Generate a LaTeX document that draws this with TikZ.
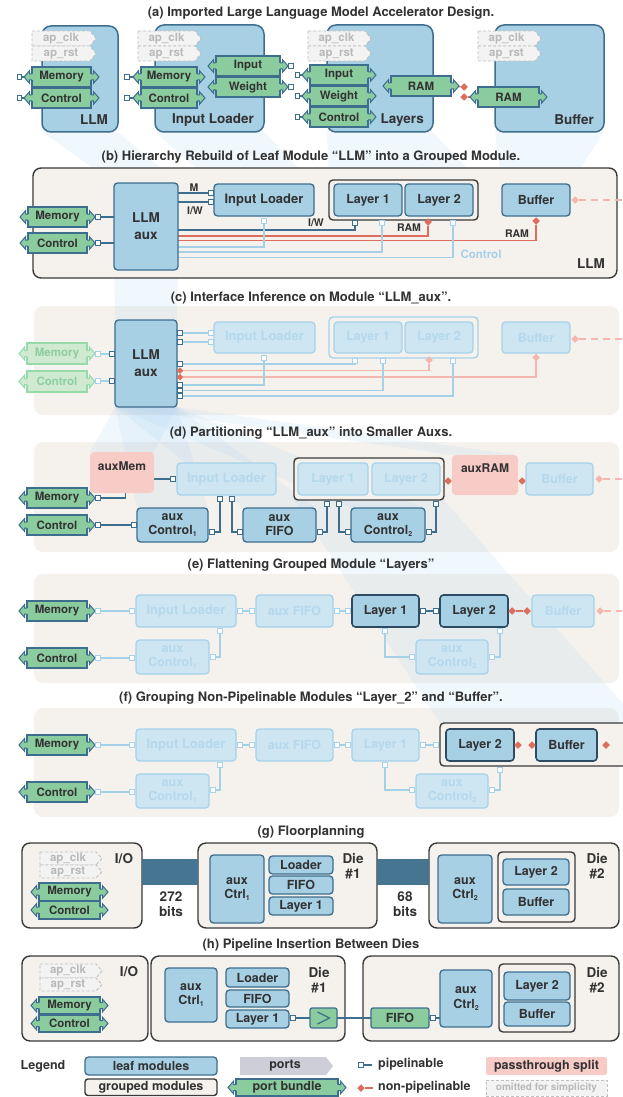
\documentclass[tikz,border=0pt]{standalone}
\usepackage{fontspec}
\setmainfont{TeX Gyre Heros}
\usetikzlibrary{calc,shapes.geometric}
\pgfdeclarelayer{bglay}
\pgfdeclarelayer{beamlay}
\pgfdeclarelayer{grplay}
\pgfdeclarelayer{wirelay}
\pgfsetlayers{bglay,beamlay,grplay,wirelay,main}
\definecolor{leafF}{RGB}{168,208,229}
\definecolor{leafD}{RGB}{62,110,142}
\definecolor{actD}{RGB}{45,76,98}
\definecolor{grpF}{RGB}{245,242,237}
\definecolor{grpD}{RGB}{58,58,58}
\definecolor{bunF}{RGB}{138,204,158}
\definecolor{txt}{RGB}{50,50,50}
\definecolor{fadF}{RGB}{206,230,241}
\definecolor{fadD}{RGB}{166,210,234}
\definecolor{fadT}{RGB}{180,216,236}
\definecolor{fgF}{RGB}{208,234,210}
\definecolor{fgD}{RGB}{150,218,170}
\definecolor{fgT}{RGB}{140,206,160}
\definecolor{redC}{RGB}{221,109,92}
\definecolor{pinkF}{RGB}{247,203,198}
\definecolor{pinkL}{RGB}{245,182,174}
\definecolor{lineL}{RGB}{164,208,232}
\definecolor{portG}{RGB}{206,206,216}
\definecolor{omF}{RGB}{243,243,243}
\definecolor{omD}{RGB}{192,192,192}
\definecolor{omT}{RGB}{185,185,185}
\definecolor{barC}{RGB}{70,117,146}
\definecolor{beamC}{RGB}{150,200,238}
\newcommand\bx[7][]{\node[#1,minimum width={(#5)-(#3)},minimum height={(#6)-(#4)}] (#2) at ({((#3)+(#5))/2},{((#4)+(#6))/2}) {#7};}
\newcommand\sub[1]{\raisebox{-0.25ex}{\fontsize{7}{7}\selectfont #1}}
\newcommand\barr[3]{%
\foreach \sg/\an in {1/east,-1/west}{%
\fill[#2] ($(#1.\an)+({-1*(\sg)},-3)$) -- ++({3.5*(\sg)},0) -- ++(0,-3.3) -- ++({5.5*(\sg)},6.3) -- ++({-5.5*(\sg)},6.3) -- ++(0,-3.3) -- ++({-3.5*(\sg)},0) -- cycle;
\draw[#3,line width=1pt,line join=miter] ($(#1.\an)+(0,-3)$) -- ++({2.5*(\sg)},0) -- ++(0,-3.3) -- ++({5.5*(\sg)},6.3) -- ++({-5.5*(\sg)},6.3) -- ++(0,-3.3) -- ++({-2.5*(\sg)},0);
}}
\newcommand\bund[6]{\bx[bund]{#1}{#2}{#3}{#4}{#5}{#6}\barr{#1}{bunF}{leafD}}
\newcommand\fbund[6]{\bx[fbund]{#1}{#2}{#3}{#4}{#5}{#6}\barr{#1}{fgF}{fgD}}
\newcommand\omtag[6]{%
\draw[omD,fill=omF,dash pattern=on 3pt off 2pt,line width=0.9pt] (#2,#3) -- ({#4-6},#3) -- (#4,{(#3+#5)/2}) -- ({#4-6},#5) -- (#2,#5) -- cycle;
\node[omtxt] (#1) at ({(#2+#4)/2-3},{(#3+#5)/2}) {#6};}
\newcommand\pp[4][prt]{\node[#1] (#2) at (#3,#4) {};}
\begin{document}
\begin{tikzpicture}[x=1pt,y=-1pt,
 every node/.style={text=txt},
 leaf/.style={draw=leafD, fill=leafF, line width=1.3pt, rounded corners=3.5pt, inner sep=0pt, outer sep=0pt, align=center, font=\bfseries\fontsize{12.5}{14.5}\selectfont, text=txt},
 leafbig/.style={leaf, rounded corners=9pt, line width=1.5pt},
 fleaf/.style={leaf, draw=fadD, fill=fadF, text=fadT},
 actleaf/.style={leaf, draw=actD, line width=1.6pt},
 grp/.style={draw=grpD, fill=grpF, line width=1.4pt, rounded corners=8pt, inner sep=0pt, outer sep=0pt, align=center},
 grpsm/.style={grp, rounded corners=4pt},
 fgrp/.style={grp, draw=fadD, rounded corners=4pt},
 bgbox/.style={fill=grpF, rounded corners=9pt, inner sep=0pt, outer sep=0pt},
 pinkbox/.style={fill=pinkF, rounded corners=4pt, inner sep=0pt, outer sep=0pt},
 bund/.style={draw=leafD, fill=bunF, line width=1.2pt, inner sep=0pt, outer sep=0pt, font=\bfseries\fontsize{11.5}{12}\selectfont, text=txt},
 fbund/.style={bund, draw=fgD, fill=fgF, text=fgT},
 bundsq/.style={bund, rounded corners=2pt, font=\bfseries\fontsize{12.5}{13}\selectfont},
 prt/.style={rectangle, draw=leafD, fill=white, line width=1pt, minimum size=4.8pt, inner sep=0pt, outer sep=0pt},
 fprt/.style={prt, draw=fadD},
 rdia/.style={diamond, fill=redC, minimum size=7.5pt, inner sep=0pt, outer sep=0pt},
 pdia/.style={rdia, fill=pinkL},
 wire/.style={draw=leafD, line width=1.3pt},
 fwire/.style={draw=lineL, line width=1.3pt},
 rwire/.style={draw=redC, line width=1.3pt},
 pwire/.style={draw=pinkL, line width=1.3pt},
 dsh/.style={dash pattern=on 7pt off 5pt},
 title/.style={font=\bfseries\fontsize{13}{14}\selectfont, inner sep=0pt},
 lbl/.style={font=\bfseries\fontsize{13.5}{15.5}\selectfont, inner sep=0pt, align=center},
 sl/.style={font=\bfseries\fontsize{10.5}{11}\selectfont, inner sep=0pt},
 sl2/.style={font=\bfseries\fontsize{12}{12}\selectfont, inner sep=0pt},
 legtxt/.style={font=\bfseries\fontsize{12.5}{13}\selectfont, inner sep=0pt},
 omtxt/.style={font=\bfseries\fontsize{11.5}{12}\selectfont, text=omT, inner sep=0pt},
 omitbox/.style={draw=omD, fill=omF, dash pattern=on 3pt off 2pt, line width=0.9pt, inner sep=0pt, outer sep=0pt, font=\bfseries\fontsize{10}{10}\selectfont, text=omT},
 beam/.style={fill=beamC, fill opacity=0.13}
]
\useasboundingbox (0,0) rectangle (622,1097);

% ================= (a)
\node[title] (tA) at (321,13) {(a) Imported Large Language Model Accelerator Design.};
\bx[leafbig]{llmA}{42}{26}{118}{132}{}
\node[lbl,anchor=east] (llmAl) at (108,120) {LLM};
\omtag{clkA1}{32}{31}{96}{46}{ap\_clk}
\omtag{rstA1}{32}{46}{96}{61}{ap\_rst}
\bund{memA1}{32}{67}{91}{87}{Memory}
\bund{ctlA1}{32}{88}{91}{108}{Control}
\pp{pmA1}{19.5}{77}\pp{pcA1}{19.5}{98}

\bx[leafbig]{ilA}{155}{25}{264}{132}{}
\node[lbl] (ilAl) at (213,120) {Input Loader};
\omtag{clkA2}{138}{31}{201}{46}{ap\_clk}
\omtag{rstA2}{138}{46}{201}{61}{ap\_rst}
\bund{memA2}{141}{67}{197}{87}{Memory}
\bund{ctlA2}{141}{88}{197}{108}{Control}
\pp{pmA2}{127}{77}\pp{pcA2}{127}{98}
\bund{inA2}{216}{56}{280}{76}{Input}
\bund{wtA2}{216}{77}{280}{97}{Weight}
\pp{piA2}{291}{66}\pp{pwA2}{291}{87}

\bx[leafbig]{lyA}{327}{25}{433}{132}{}
\node[lbl,anchor=east] (lyAl) at (424,120) {Layers};
\omtag{clkA3}{308}{31}{371}{46}{ap\_clk}
\omtag{rstA3}{308}{46}{371}{61}{ap\_rst}
\bund{inA3}{310}{65}{368}{85}{Input}
\bund{wtA3}{310}{86}{368}{106}{Weight}
\bund{ctA3}{310}{107}{368}{127}{Control}
\pp{piA3}{297.5}{75}\pp{pwA3}{297.5}{96}\pp{pcA3}{297.5}{117}
\bund{ramA3}{391}{76}{451}{96}{RAM}
\node[rdia] (dA1) at (464,87) {};
\node[rdia] (dA2) at (464,97) {};

\bx[leafbig]{bfA}{495}{25}{604}{132}{}
\node[lbl,anchor=east] (bfAl) at (594,120) {Buffer};
\omtag{clkA4}{478}{31}{541}{46}{ap\_clk}
\omtag{rstA4}{478}{46}{541}{61}{ap\_rst}
\bund{ramA4}{478}{87}{539}{107}{RAM}

\begin{pgfonlayer}{wirelay}
\draw[wire] (pmA1) -- (memA1.west); \draw[wire] (pcA1) -- (ctlA1.west);
\draw[wire] (pmA2) -- (memA2.west); \draw[wire] (pcA2) -- (ctlA2.west);
\draw[wire] (piA2) -- (inA2.east); \draw[wire] (pwA2) -- (wtA2.east);
\draw[wire] (piA3) -- (inA3.west); \draw[wire] (pwA3) -- (wtA3.west); \draw[wire] (pcA3) -- (ctA3.west);
\draw[rwire] (dA1) -- (ramA3.east); \draw[rwire] (dA2) -- (ramA4.west);
\end{pgfonlayer}

% ================= (b)
\node[title] (tB) at (311,157) {(b) Hierarchy Rebuild of Leaf Module “LLM” into a Grouped Module.};
\begin{pgfonlayer}{grplay}\bx[grp]{grpB}{33}{168}{617}{278}{}\end{pgfonlayer}
\node[lbl,anchor=east] (grpBl) at (605,264) {LLM};
\bund{memB}{28}{207}{87}{227}{Memory}
\bund{ctlB}{28}{233}{87}{253}{Control}
\pp{pmB}{98}{217}\pp{pcB}{98}{243}
\bx[leaf,font=\bfseries\fontsize{13.5}{17}\selectfont]{auxB}{114}{183}{178}{270}{LLM\\aux}
\bx[leaf,font=\bfseries\fontsize{13}{15}\selectfont]{ilB}{214}{184}{314}{216}{Input Loader}
\pp{pi1B}{211}{193}\pp{pi2B}{211}{202}
\pp[fprt]{picB}{264}{221}
\bx[grpsm]{lyB}{329}{180}{478}{220}{}
\bx[leaf]{l1B}{334}{184}{402}{216}{Layer 1}
\bx[leaf]{l2B}{405}{184}{473}{216}{Layer 2}
\pp{pl1aB}{355}{223}\pp[fprt]{pl1bB}{382}{223}
\node[rdia] (dl2B) at (428,222) {};
\pp[fprt]{pl2bB}{453}{223}
\bx[leaf]{bfB}{502}{184}{570}{216}{Buffer}
\node[rdia] (dbfB) at (536,221) {};
\node[pdia] (pdB) at (575,200) {};
\coordinate (eB) at (622,200);
\node[sl] (lbM) at (194,188) {M};
\node[sl] (lbIW1) at (195,211) {I/W};
\node[sl] (lbIW2) at (316,223) {I/W};
\node[sl] (lbR1) at (409,228) {RAM};
\node[sl] (lbR2) at (517,234) {RAM};
\node[sl,text=lineL,font=\bfseries\fontsize{11.5}{12}\selectfont] (lbCt) at (481,254) {Control};
\begin{pgfonlayer}{wirelay}
\draw[wire] (pmB) -- (memB.east); \draw[wire] (pcB) -- (ctlB.east);
\draw[wire] (pmB) -- (auxB.west |- pmB); \draw[wire] (pcB) -- (auxB.west |- pcB);
\draw[wire] (auxB.east |- pi1B) -- (pi1B); \draw[wire] (auxB.east |- pi2B) -- (pi2B);
\draw[wire] (pl1aB.south) |- (auxB.east |- 0,230);
\draw[rwire] (dl2B.south) |- (auxB.east |- 0,236);
\draw[rwire] (dbfB.south) |- (auxB.east |- 0,240.5);
\draw[fwire] (picB.south) |- (auxB.east |- 0,247);
\draw[fwire] (pl1bB.south) |- (auxB.east |- 0,252);
\draw[fwire] (pl2bB.south) |- (auxB.east |- 0,257.5);
\draw[pwire,dsh] (pdB) -- (eB);
\end{pgfonlayer}

% ================= (c)
\node[title] (tC) at (311,298) {(c) Interface Inference on Module “LLM\_aux”.};
\begin{pgfonlayer}{bglay}\bx[bgbox]{bgC}{34}{306}{619}{415}{}\end{pgfonlayer}
\fbund{memC}{27}{343}{87}{364}{Memory}
\fbund{ctlC}{27}{371}{87}{392}{Control}
\pp[fprt]{pmfC}{98}{354}\pp[fprt]{pcfC}{98}{381}
\bx[leaf,font=\bfseries\fontsize{13.5}{17}\selectfont]{auxC}{115}{320}{177}{407}{LLM\\aux}
\pp{pmaC}{112}{354}\pp{pcaC}{112}{381}
\pp{pr1C}{180}{333}\pp{pr2C}{180}{342}\pp{pr3C}{180}{364}
\pp{pr6C}{180}{385}\pp{pr7C}{180}{390.5}\pp{pr8C}{180}{396}
\node[rdia,minimum size=6.5pt] (pr4C) at (180,370.5) {};
\node[rdia,minimum size=6.5pt] (pr5C) at (180,377) {};
\bx[fleaf,font=\bfseries\fontsize{13}{15}\selectfont]{ilC}{214}{322}{315}{353}{Input Loader}
\pp[fprt]{pi1C}{211}{333}\pp[fprt]{pi2C}{211}{342}\pp[fprt]{picC}{264}{358}
\bx[fgrp]{lyC}{329}{317}{478}{358}{}
\bx[fleaf]{l1C}{334}{322}{402}{353}{Layer 1}
\bx[fleaf]{l2C}{405}{322}{473}{353}{Layer 2}
\pp[fprt]{pl1aC}{355}{361}\pp[fprt]{pl1bC}{383}{361}
\node[pdia] (dl2C) at (429,360) {};
\pp[fprt]{pl2bC}{453}{361}
\bx[fleaf]{bfC}{502}{322}{570}{353}{Buffer}
\node[pdia] (dbfC) at (536,357.5) {};
\node[pdia] (pdC) at (575,339) {};
\coordinate (eC) at (622,339);
\begin{pgfonlayer}{wirelay}
\draw[fwire] (pmfC) -- (memC.east); \draw[fwire] (pcfC) -- (ctlC.east);
\draw[fwire] (pmfC) -- (pmaC); \draw[fwire] (pcfC) -- (pcaC);
\draw[fwire] (pr1C) -- (pi1C); \draw[fwire] (pr2C) -- (pi2C);
\draw[fwire] (pl1aC.south) |- (pr3C.east);
\draw[pwire] (dl2C.south) |- (pr4C.east);
\draw[pwire] (dbfC.south) |- (pr5C.east);
\draw[fwire] (picC.south) |- (pr6C.east);
\draw[fwire] (pl1bC.south) |- (pr7C.east);
\draw[fwire] (pl2bC.south) |- (pr8C.east);
\draw[pwire,dsh] (pdC) -- (eC);
\end{pgfonlayer}

% ================= (d)
\node[title] (tD) at (311,433) {(d) Partitioning “LLM\_aux” into Smaller Auxs.};
\begin{pgfonlayer}{bglay}\bx[bgbox]{bgD}{34}{442}{619}{552}{}\end{pgfonlayer}
\bx[pinkbox]{amD}{90}{452}{154}{493}{}
\node[sl2] (amDl) at (122,466) {auxMem};
\bund{memD}{27}{488}{87}{508}{Memory}
\bund{ctlD}{27}{515}{87}{535}{Control}
\pp{pmD}{98}{498}\pp{pcD}{98}{525}
\bx[fleaf,font=\bfseries\fontsize{13}{15}\selectfont]{ilD}{177}{463}{276}{495}{Input Loader}
\pp{pilD}{173}{479}\pp{pib1D}{220}{499}\pp{pib2D}{232}{499}
\bx[leaf]{c1D}{137}{508}{208}{542}{aux\\Control\sub{1}}
\pp{pc1lD}{134}{525}\pp{pc1rD}{212}{532}
\bx[leaf]{ffD}{243}{508}{316}{542}{aux\\FIFO}
\pp{pfflD}{240}{532}\pp{pffrD}{320}{532}
\bx[grpsm]{lyD}{294}{458}{444}{500}{}
\bx[fleaf]{l1D}{298}{463}{368}{495}{Layer 1}
\bx[fleaf]{l2D}{372}{463}{440}{495}{Layer 2}
\pp{pg1D}{327}{504}\pp{pg2D}{339}{504}\pp{pg3D}{436}{504}
\bx[leaf]{c2D}{351}{508}{425}{542}{aux\\Control\sub{2}}
\pp{pc2lD}{348}{532}\pp{pc2rD}{429}{532}
\bx[pinkbox]{arD}{452}{455}{518}{495}{}
\node[sl2] (arDl) at (485,468) {auxRAM};
\node[rdia] (dgD) at (448,481) {};
\node[rdia] (dbD) at (522,481) {};
\bx[fleaf]{bfD}{526}{463}{593}{495}{Buffer}
\node[pdia] (pdD) at (599,479) {};
\coordinate (eD) at (622,479);
\begin{pgfonlayer}{wirelay}
\draw[wire] (pmD) -- (memD.east); \draw[wire] (pcD) -- (ctlD.east);
\draw[wire] (pmD.east) -- ++(25,0) |- (pilD.west);
\draw[wire] (pcD) -- (pc1lD);
\draw[wire] (pc1rD.east) -| (pib1D.south);
\draw[wire] (pib2D.south) |- (pfflD.west);
\draw[wire] (pffrD.east) -| (pg1D.south);
\draw[wire] (pg2D.south) |- (pc2lD.west);
\draw[wire] (pc2rD.east) -| (pg3D.south);
\draw[rwire] (dgD) -- (dbD);
\draw[pwire,dsh] (pdD) -- (eD);
\end{pgfonlayer}

% ================= (e)
\node[title] (tE) at (311,565) {(e) Flattening Grouped Module “Layers”};
\begin{pgfonlayer}{bglay}\bx[bgbox]{bgE}{34}{574}{619}{683}{}\end{pgfonlayer}
\bund{memE}{27}{601}{87}{621}{Memory}
\pp[fprt]{pmE}{98}{611}
\bx[fleaf,font=\bfseries\fontsize{13}{15}\selectfont]{ilE}{136}{595}{236}{627}{Input Loader}
\pp[fprt]{pilE}{132}{611}\pp[fprt]{pirE}{240}{611}\pp[fprt]{pibE}{220}{631}
\bx[fleaf]{ffE}{256}{595}{333}{627}{aux FIFO}
\pp[fprt]{pflE}{252}{611}\pp[fprt]{pfrE}{337}{611}
\bx[actleaf]{l1E}{352}{595}{419}{627}{Layer 1}
\pp[fprt]{pl1lE}{348}{611}\pp{pl1rE}{423}{611}\pp[fprt]{pl1bE}{385}{631}
\bx[actleaf]{l2E}{440}{595}{508}{627}{Layer 2}
\pp{pl2lE}{436}{611}\pp[fprt]{pl2bE}{500}{631}
\node[rdia] (dl2E) at (512,611) {};
\node[rdia] (dbfE) at (527,611) {};
\bx[fleaf]{bfE}{532}{595}{594}{627}{Buffer}
\node[pdia] (pdE) at (600,611) {};
\coordinate (eE) at (622,611);
\bund{ctlE}{27}{648}{87}{668}{Control}
\pp[fprt]{pcE}{98}{658}
\bx[fleaf]{c1E}{136}{640}{209}{674}{aux\\Control\sub{1}}
\pp[fprt]{pc1lE}{132}{658}\pp[fprt]{pc1rE}{213}{657}
\bx[fleaf]{c2E}{416}{640}{488}{674}{aux\\Control\sub{2}}
\pp[fprt]{pc2lE}{412}{657}\pp[fprt]{pc2rE}{492}{657}
\begin{pgfonlayer}{wirelay}
\draw[fwire] (pmE) -- (memE.east); \draw[fwire] (pmE) -- (pilE);
\draw[fwire] (pirE) -- (pflE); \draw[fwire] (pfrE) -- (pl1lE);
\draw[wire] (pl1rE) -- (pl2lE);
\draw[rwire] (dl2E) -- (dbfE);
\draw[pwire,dsh] (pdE) -- (eE);
\draw[fwire] (pcE) -- (ctlE.east); \draw[fwire] (pcE) -- (pc1lE);
\draw[fwire] (pc1rE.east) -| (pibE.south);
\draw[fwire] (pl1bE.south) |- (pc2lE.west);
\draw[fwire] (pc2rE.east) -| (pl2bE.south);
\end{pgfonlayer}

% ================= (f)
\node[title] (tF) at (311,698) {(f) Grouping Non-Pipelinable Modules “Layer\_2” and “Buffer”.};
\begin{pgfonlayer}{bglay}\bx[bgbox]{bgF}{34}{708}{619}{817}{}\end{pgfonlayer}
\bund{memF}{27}{735}{87}{755}{Memory}
\pp[fprt]{pmF}{98}{745}
\bx[fleaf,font=\bfseries\fontsize{13}{15}\selectfont]{ilF}{136}{729}{236}{761}{Input Loader}
\pp[fprt]{pilF}{132}{745}\pp[fprt]{pirF}{240}{745}\pp[fprt]{pibF}{220}{765}
\bx[fleaf]{ffF}{256}{729}{333}{761}{aux FIFO}
\pp[fprt]{pflF}{252}{745}\pp[fprt]{pfrF}{337}{745}
\bx[fleaf]{l1F}{352}{729}{419}{761}{Layer 1}
\pp[fprt]{pl1lF}{348}{745}\pp[fprt]{pl1rF}{423}{745}\pp[fprt]{pl1bF}{385}{765}
\bx[grpsm]{gF}{440}{723}{640}{766}{}
\pp[fprt]{pgF}{436}{745}
\bx[actleaf]{l2F}{446}{729}{514}{761}{Layer 2}
\bx[actleaf]{bfF}{536}{729}{597}{761}{Buffer}
\node[rdia] (dl2F) at (518,745) {};
\node[rdia] (dbfF) at (532,745) {};
\node[rdia] (dbrF) at (606,745) {};
\coordinate (eF) at (622,745);
\pp[fprt]{pgbF}{500}{770}
\bund{ctlF}{27}{782}{87}{802}{Control}
\pp[fprt]{pcF}{98}{792}
\bx[fleaf]{c1F}{136}{774}{209}{808}{aux\\Control\sub{1}}
\pp[fprt]{pc1lF}{132}{792}\pp[fprt]{pc1rF}{213}{790}
\bx[fleaf]{c2F}{416}{774}{488}{808}{aux\\Control\sub{2}}
\pp[fprt]{pc2lF}{412}{790}\pp[fprt]{pc2rF}{492}{790}
\begin{pgfonlayer}{wirelay}
\draw[fwire] (pmF) -- (memF.east); \draw[fwire] (pmF) -- (pilF);
\draw[fwire] (pirF) -- (pflF); \draw[fwire] (pfrF) -- (pl1lF);
\draw[fwire] (pl1rF) -- (pgF);
\draw[rwire] (dl2F) -- (dbfF);
\draw[rwire] (dbrF) -- (eF);
\draw[fwire] (pcF) -- (ctlF.east); \draw[fwire] (pcF) -- (pc1lF);
\draw[fwire] (pc1rF.east) -| (pibF.south);
\draw[fwire] (pl1bF.south) |- (pc2lF.west);
\draw[fwire] (pc2rF.east) -| (pgbF.south);
\end{pgfonlayer}

% ================= (g)
\node[title] (tG) at (311,832) {(g) Floorplanning};
\begin{pgfonlayer}{grplay}
\bx[grp]{ioG}{22}{843}{142}{928}{}
\bx[grp]{d1G}{198}{843}{377}{928}{}
\bx[grp]{d2G}{429}{843}{619}{928}{}
\fill[barC] (ioG.east |- 0,859) rectangle (d1G.west |- 0,885);
\fill[barC] (d1G.east |- 0,859) rectangle (d2G.west |- 0,885);
\end{pgfonlayer}
\node[lbl] (ioGl) at (124,859) {I/O};
\omtag{clkG}{40}{852}{102}{865}{ap\_clk}
\omtag{rstG}{40}{865}{102}{878}{ap\_rst}
\bund{memG}{39}{883}{100}{901}{Memory}
\bund{ctlG}{39}{901}{100}{919}{Control}
\node[lbl] (b1G) at (171,904) {272\\bits};
\node[lbl] (d1Gl) at (353,866) {Die\\\#1};
\bx[leaf]{a1G}{210}{855}{264}{923}{aux\\Ctrl\sub{1}}
\bx[leaf]{ldG}{269}{856}{333}{874}{Loader}
\bx[leaf]{ffG}{269}{876}{333}{894}{FIFO}
\bx[leaf]{l1G}{269}{897}{333}{915}{Layer 1}
\node[lbl] (b2G) at (405,904) {68\\bits};
\node[lbl] (d2Gl) at (597,866) {Die\\\#2};
\bx[leaf]{a2G}{438}{855}{492}{923}{aux\\Ctrl\sub{2}}
\bx[grpsm]{gG}{498}{852}{575}{922}{}
\bx[leaf]{l2G}{503}{859}{569}{885}{Layer 2}
\bx[leaf]{bfG}{503}{889}{569}{915}{Buffer}

% ================= (h)
\node[title] (tH) at (311,945) {(h) Pipeline Insertion Between Dies};
\begin{pgfonlayer}{grplay}
\bx[grp]{ioH}{22}{956}{148}{1041}{}
\bx[grp]{d1H}{151}{956}{345}{1041}{}
\bx[grp]{d2H}{363}{956}{619}{1041}{}
\end{pgfonlayer}
\node[lbl] (ioHl) at (129,972) {I/O};
\omtag{clkH}{40}{964}{102}{978}{ap\_clk}
\omtag{rstH}{40}{978}{102}{991}{ap\_rst}
\bund{memH}{39}{997}{100}{1014}{Memory}
\bund{ctlH}{39}{1015}{100}{1032}{Control}
\node[lbl] (d1Hl) at (319,980) {Die\\\#1};
\bx[leaf]{a1H}{165}{968}{217}{1022}{aux\\Ctrl\sub{1}}
\bx[leaf]{ldH}{226}{968}{289}{987}{Loader}
\bx[leaf]{ffH}{226}{990}{289}{1007}{FIFO}
\bx[leaf]{l1H}{226}{1010}{289}{1028}{Layer 1}
\pp{pl1H}{293}{1018}
\bx[bundsq]{regH}{310}{1008}{337}{1028}{}
\draw[leafD,line width=1.3pt] ($(regH.center)+(-6,-6)$) -- ($(regH.center)+(6,0)$) -- ($(regH.center)+(-6,6)$);
\bx[bundsq]{fifoH}{371}{1008}{429}{1028}{FIFO}
\pp{pfH}{433}{1018}
\bx[leaf]{a2H}{440}{970}{492}{1027}{aux\\Ctrl\sub{2}}
\node[lbl] (d2Hl) at (597,980) {Die\\\#2};
\bx[grpsm]{gH}{499}{964}{575}{1032}{}
\bx[leaf]{l2H}{504}{972}{570}{1000}{Layer 2}
\bx[leaf]{bfH}{504}{1002}{570}{1026}{Buffer}
\begin{pgfonlayer}{wirelay}
\draw[wire] (pl1H) -- (regH); \draw[wire] (regH) -- (fifoH);
\draw[wire] (fifoH) -- (pfH); \draw[wire] (pfH) -- (a2H.west |- pfH);
\end{pgfonlayer}

% ================= Legend
\node[legtxt] (lgT) at (43,1066) {Legend};
\bx[leaf,font=\bfseries\fontsize{12.5}{13}\selectfont]{lgLeaf}{85}{1057}{217}{1075}{leaf modules}
\bx[grp,rounded corners=3pt,font=\bfseries\fontsize{12.5}{13}\selectfont]{lgGrp}{85}{1079}{217}{1095.5}{grouped modules}
\fill[portG] (240,1057) -- (326,1057) -- (333,1066) -- (326,1075) -- (240,1075) -- cycle;
\node[legtxt] (lgPorts) at (285,1066) {ports};
\bx[bund,font=\bfseries\fontsize{12.5}{13}\selectfont]{lgBund}{236}{1079}{338}{1096}{port bundle}
\barr{lgBund}{bunF}{leafD}
\pp{lgP}{361}{1065}
\coordinate (lgPe) at (372,1065);
\node[legtxt,anchor=west] (lgPt) at (378,1064) {pipelinable};
\node[rdia] (lgN) at (361,1088) {};
\coordinate (lgNe) at (373,1088);
\node[legtxt,anchor=west] (lgNt) at (378,1087) {non-pipelinable};
\bx[pinkbox,rounded corners=2pt,font=\bfseries\fontsize{12.5}{13}\selectfont]{lgPass}{486}{1057}{607}{1075}{passthrough split}
\bx[omitbox]{lgOm}{486}{1080}{607}{1096}{omitted for simplicity}
\begin{pgfonlayer}{wirelay}
\draw[wire] (lgP) -- (lgPe);
\draw[rwire] (lgN) -- (lgNe);
\end{pgfonlayer}

% ================= beams
\begin{pgfonlayer}{beamlay}
\fill[beam] (llmA.south west) -- (llmA.south east) -- (auxB.north east) -- (auxB.north west) -- cycle;
\fill[beam] (ilA.south west) -- (ilA.south east) -- (ilB.north east) -- (ilB.north west) -- cycle;
\fill[beam] (lyA.south west) -- (lyA.south east) -- (lyB.north east) -- (lyB.north west) -- cycle;
\fill[beam] (bfA.south west) -- (bfA.south east) -- (bfB.north east) -- (bfB.north west) -- cycle;
\fill[beam] (auxB.south west) -- (auxB.south east) -- (auxC.north east) -- (auxC.north west) -- cycle;
\fill[beam] (auxC.south west) -- (auxC.south east) -- (amD.north east) -- (amD.north west) -- cycle;
\fill[beam] (auxC.south west) -- (auxC.south east) -- (c1D.north east) -- (c1D.north west) -- cycle;
\fill[beam] (auxC.south west) -- (auxC.south east) -- (ffD.north east) -- (ffD.north west) -- cycle;
\fill[beam] (auxC.south west) -- (auxC.south east) -- (c2D.north east) -- (c2D.north west) -- cycle;
\fill[beam] (auxC.south west) -- (auxC.south east) -- (arD.north east) -- (arD.north west) -- cycle;
\fill[beam] (lyD.south west) -- (lyD.south east) -- (gF.north east) -- (gF.north west) -- cycle;
\end{pgfonlayer}
\end{tikzpicture}
\end{document}
